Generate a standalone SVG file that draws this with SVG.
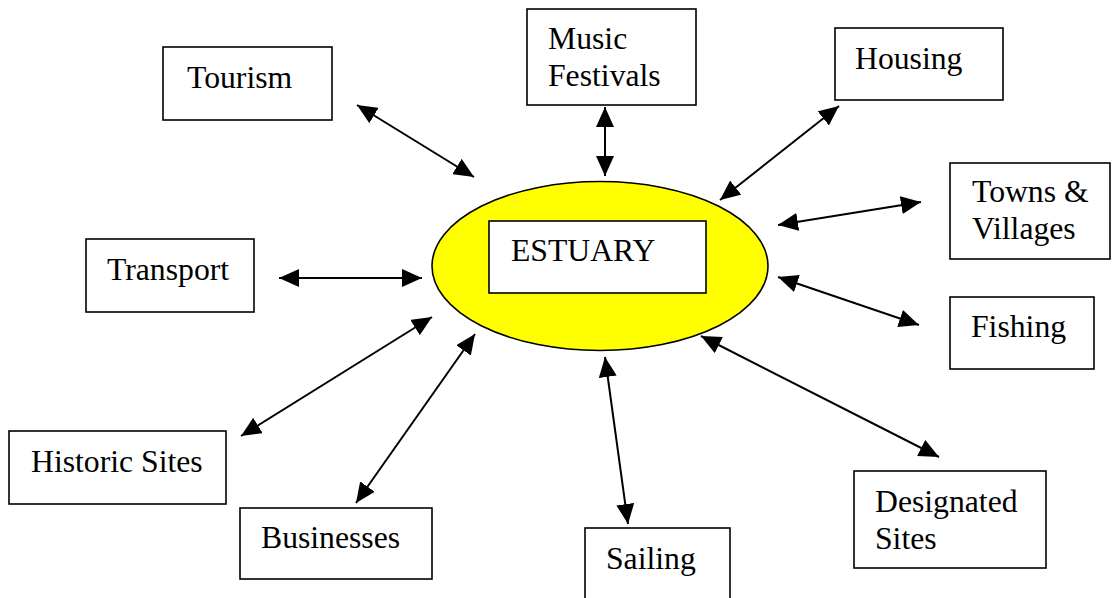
<svg xmlns="http://www.w3.org/2000/svg" width="1112" height="598" viewBox="0 0 1112 598">
<style>
.box{fill:#fff;stroke:#000;stroke-width:1.6}
.t{font-family:"Liberation Serif","Times New Roman",serif;font-size:31.7px;fill:#000}
.c{stroke:#000;stroke-width:2;fill:none;marker-start:url(#ah);marker-end:url(#ah)}
</style>
<defs>
<marker id="ah" viewBox="0 0 20 18" refX="20" refY="9" markerWidth="20" markerHeight="18" markerUnits="userSpaceOnUse" orient="auto-start-reverse">
<path d="M0,0 L20,9 L0,18 z" fill="#000"/>
</marker>
</defs>
<rect width="1112" height="598" fill="#fff"/>
<g id="estuary">
<ellipse cx="600" cy="266" rx="168" ry="84.5" fill="#ffff00" stroke="#000" stroke-width="1.6"/>
<rect class="box" x="489" y="221" width="217" height="72"/>
<text class="t" x="511" y="261">ESTUARY</text>
</g>
<g id="tourism"><rect class="box" x="163" y="47" width="169" height="73"/><text class="t" x="187" y="88">Tourism</text></g>
<g id="music"><rect class="box" x="527" y="9" width="169" height="96"/><text class="t" x="548" y="49">Music</text><text class="t" x="548" y="86">Festivals</text></g>
<g id="housing"><rect class="box" x="835" y="28" width="168" height="72"/><text class="t" x="855" y="69">Housing</text></g>
<g id="towns"><rect class="box" x="950" y="163" width="160" height="96"/><text class="t" x="972" y="202">Towns &amp;</text><text class="t" x="972" y="239">Villages</text></g>
<g id="fishing"><rect class="box" x="950" y="297" width="144" height="72"/><text class="t" x="971" y="337">Fishing</text></g>
<g id="transport"><rect class="box" x="86" y="239" width="168" height="73"/><text class="t" x="107" y="280">Transport</text></g>
<g id="historic"><rect class="box" x="9" y="431" width="217" height="73"/><text class="t" x="31" y="472">Historic Sites</text></g>
<g id="businesses"><rect class="box" x="240" y="508" width="192" height="71"/><text class="t" x="261" y="548">Businesses</text></g>
<g id="sailing"><rect class="box" x="585" y="528" width="145" height="90"/><text class="t" x="606" y="569">Sailing</text></g>
<g id="designated"><rect class="box" x="854" y="471" width="192" height="97"/><text class="t" x="875" y="512">Designated</text><text class="t" x="875" y="549">Sites</text></g>
<g id="connectors">
<line class="c" x1="357" y1="105" x2="474" y2="177"/>
<line class="c" x1="605" y1="107" x2="605" y2="176"/>
<line class="c" x1="839" y1="106" x2="720" y2="200"/>
<line class="c" x1="778" y1="225" x2="921" y2="202"/>
<line class="c" x1="778" y1="277" x2="919" y2="325"/>
<line class="c" x1="279" y1="278" x2="422" y2="278"/>
<line class="c" x1="432" y1="317" x2="241" y2="436"/>
<line class="c" x1="475" y1="334" x2="356" y2="503"/>
<line class="c" x1="605" y1="357" x2="628" y2="524"/>
<line class="c" x1="701" y1="336" x2="939" y2="457"/>
</g>
</svg>
